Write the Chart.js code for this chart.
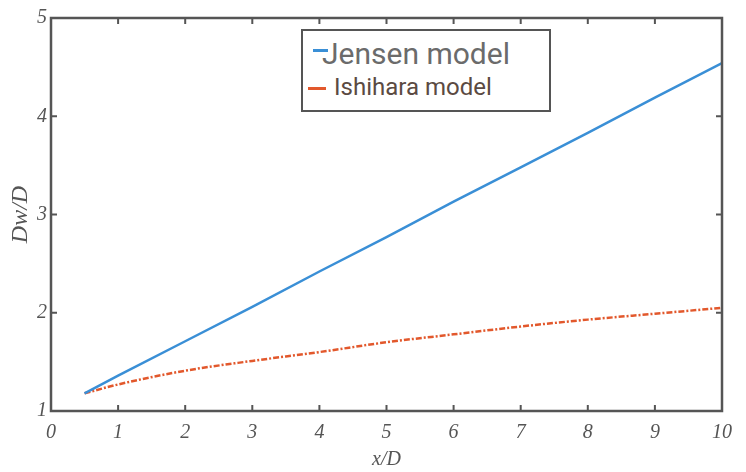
<!DOCTYPE html>
<html>
<head>
<meta charset="utf-8">
<script src="https://cdn.jsdelivr.net/npm/chart.js@4"></script>
<style>
    html, body { margin: 0; padding: 0; background: #fff; }
    #wrap { position: relative; width: 746px; height: 472px; }
    #legend {
        position: absolute; left: 301px; top: 29px; width: 246px; height: 79px;
        border: 2px solid #555; background: #fff; font-family: Roboto, sans-serif;
    }
    .leg-item { position: absolute; white-space: nowrap; }
    .leg-line { position: absolute; height: 3px; }
</style>
</head>
<body>
<div id="wrap">
    <canvas id="dw-chart" width="746" height="472"></canvas>
    <div id="legend"></div>
</div>
<script>
// x/D positions where the curves are read
const xValues = [0.5, 1, 2, 3, 4, 5, 6, 7, 8, 9, 10];
// Jensen model wake width Dw/D
const jensenValues = [1.18, 1.36, 1.71, 2.06, 2.42, 2.77, 3.13, 3.48, 3.83, 4.19, 4.54];
// Ishihara model wake width Dw/D
const ishiharaValues = [1.18, 1.27, 1.41, 1.51, 1.60, 1.70, 1.78, 1.86, 1.93, 1.99, 2.05];
const xTicks = [0, 1, 2, 3, 4, 5, 6, 7, 8, 9, 10];
const yTicks = [1, 2, 3, 4, 5];

const frameColor = '#555';
const tickFont = { family: '"Liberation Serif", serif', style: 'italic', size: 20 };

// frame box with inward tick marks on all four sides
const framePlugin = {
    id: 'frame',
    afterDatasetsDraw(chart) {
        const { ctx, chartArea: a, scales } = chart;
        ctx.save();
        ctx.strokeStyle = frameColor;
        ctx.lineWidth = 2;
        ctx.beginPath();
        xTicks.forEach(function (v) {
            const px = scales.x.getPixelForValue(v);
            ctx.moveTo(px, a.bottom); ctx.lineTo(px, a.bottom - 6);
            ctx.moveTo(px, a.top); ctx.lineTo(px, a.top + 6);
        });
        yTicks.forEach(function (v) {
            const py = scales.y.getPixelForValue(v);
            ctx.moveTo(a.left, py); ctx.lineTo(a.left + 6, py);
            ctx.moveTo(a.right, py); ctx.lineTo(a.right - 6, py);
        });
        ctx.stroke();
        ctx.lineWidth = 2.5;
        ctx.strokeRect(a.left, a.top, a.right - a.left, a.bottom - a.top);
        ctx.restore();
    }
};

const toPoints = (ys) => xValues.map((x, i) => ({ x: x, y: ys[i] }));

const ctx = document.getElementById('dw-chart').getContext('2d');
const chart = new Chart(ctx, {
    type: 'line',
    data: {
        datasets: [
            {
                label: 'Jensen model',
                data: toPoints(jensenValues),
                borderColor: '#3a8fd6',
                borderWidth: 2.5,
                pointRadius: 0,
                tension: 0
            },
            {
                label: 'Ishihara model',
                data: toPoints(ishiharaValues),
                borderColor: '#e2582c',
                borderWidth: 2.5,
                borderDash: [6, 2, 2, 2],
                pointRadius: 0,
                cubicInterpolationMode: 'monotone'
            }
        ]
    },
    options: {
        responsive: false,
        animation: false,
        plugins: {
            legend: { display: false },
            tooltip: { enabled: false }
        },
        layout: { padding: { left: 0, right: 24, top: 18, bottom: 0 } },
        scales: {
            x: {
                type: 'linear',
                min: 0,
                max: 10,
                afterBuildTicks: (s) => { s.ticks = xTicks.map(v => ({ value: v })); },
                afterFit: (s) => { s.height = 61; },
                grid: { display: false, drawTicks: false },
                border: { display: false },
                ticks: { color: frameColor, font: tickFont, padding: 10, maxRotation: 0 },
                title: {
                    display: true,
                    text: 'x/D',
                    color: frameColor,
                    font: tickFont,
                    padding: { top: 0, bottom: 0 }
                }
            },
            y: {
                min: 1,
                max: 5,
                afterBuildTicks: (s) => { s.ticks = yTicks.map(v => ({ value: v })); },
                afterFit: (s) => { s.width = 51; },
                grid: { display: false, drawTicks: false },
                border: { display: false },
                ticks: { color: frameColor, font: tickFont, padding: 4 },
                title: {
                    display: true,
                    text: 'Dw/D',
                    color: frameColor,
                    font: { family: '"Liberation Serif", serif', style: 'italic', size: 24 },
                    padding: { top: 6, bottom: 0 }
                }
            }
        }
    },
    plugins: [framePlugin]
});

// legend drawn as html, built from the datasets
const legendStyles = [
    { top: 5, size: 30, color: '#6b6b6b', lineLeft: 10, lineTop: 18, lineWidth: 15, textLeft: 19 },
    { top: 42, size: 24, color: '#5b4a42', lineLeft: 5, lineTop: 56, lineWidth: 18, textLeft: 31 }
];
const $legend = document.getElementById('legend');
chart.data.datasets.forEach(function (ds, i) {
    const st = legendStyles[i];
    const line = document.createElement('div');
    line.className = 'leg-line';
    line.style.left = st.lineLeft + 'px';
    line.style.top = st.lineTop + 'px';
    line.style.width = st.lineWidth + 'px';
    line.style.background = ds.borderColor;
    $legend.appendChild(line);

    const txt = document.createElement('div');
    txt.className = 'leg-item';
    txt.textContent = ds.label;
    txt.style.left = st.textLeft + 'px';
    txt.style.top = st.top + 'px';
    txt.style.fontSize = st.size + 'px';
    txt.style.color = st.color;
    $legend.appendChild(txt);
});
</script>
</body>
</html>
